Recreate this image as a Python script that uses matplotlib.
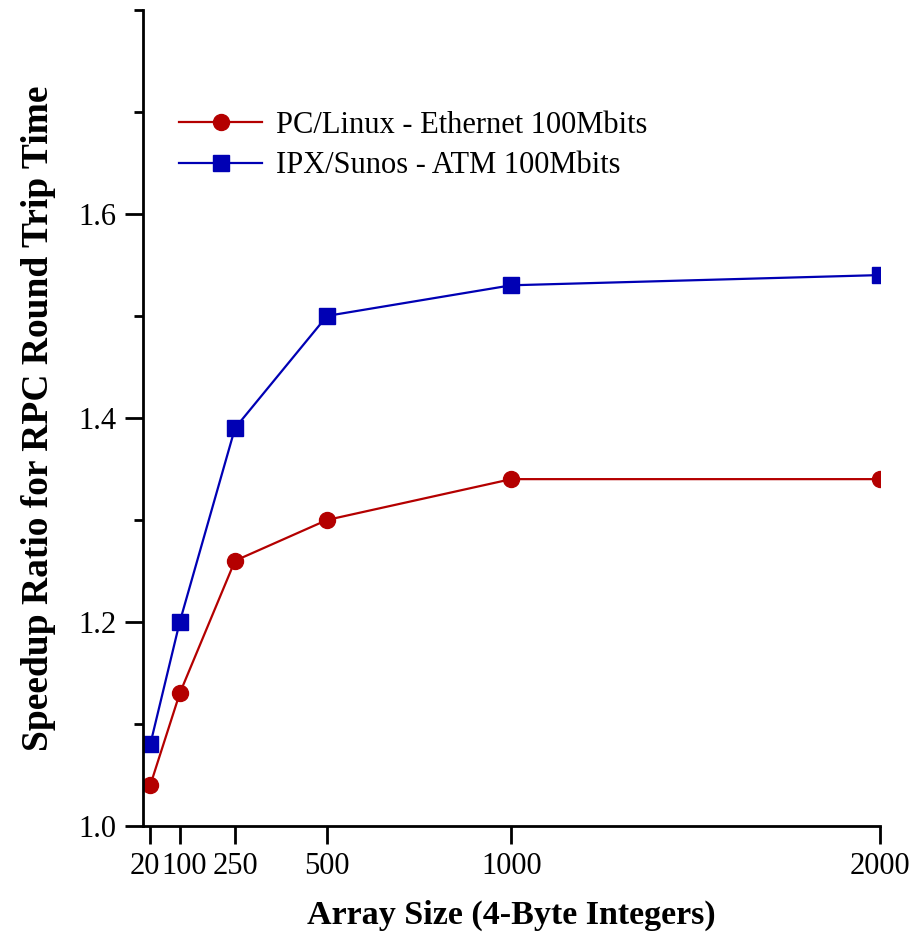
import matplotlib
matplotlib.use("Agg")
import matplotlib.pyplot as plt
from matplotlib.ticker import MultipleLocator
from matplotlib.transforms import ScaledTranslation

plt.rcParams["font.family"] = ["Liberation Serif", "DejaVu Serif"]

array_size = [20, 100, 250, 500, 1000, 2000]
pc_linux = [1.04, 1.13, 1.26, 1.30, 1.34, 1.34]
ipx_sunos = [1.08, 1.20, 1.39, 1.50, 1.53, 1.54]
xtick_labels = ["20", "100", "250", "500", "1000", "2000"]

RED, BLUE = "#b40000", "#0000b4"

fig = plt.figure(figsize=(9.22, 9.36), dpi=100)
ax = fig.add_axes([0.155, 0.1175, 0.799, 0.872])

ax.plot(array_size, pc_linux, color=RED, lw=1.6, marker="o", ms=11.5,
        label="PC/Linux - Ethernet 100Mbits")
ax.plot(array_size, ipx_sunos, color=BLUE, lw=1.6, marker="s", ms=11,
        label="IPX/Sunos - ATM 100Mbits")

ax.set_xlim(0, 2000)
ax.set_ylim(1.0, 1.8)
ax.set_xticks(array_size)
ax.set_xticklabels(xtick_labels)
ax.yaxis.set_minor_locator(MultipleLocator(0.1))
ax.set_yticks([1.0, 1.2, 1.4, 1.6])
ax.set_yticklabels(["1.0", "1.2", "1.4", "1.6"])

for s in ("top", "right"):
    ax.spines[s].set_visible(False)
for s in ("left", "bottom"):
    ax.spines[s].set_linewidth(2)
ax.tick_params(which="major", direction="out", length=13, width=2,
               labelsize=22, pad=6)
ax.tick_params(which="minor", direction="out", length=6.5, width=2)
ax.tick_params(axis="x", which="minor", length=0)

# the first two sizes sit close together: nudge their labels apart
lbls = ax.get_xticklabels()
for lbl, dx in ((lbls[0], -5), (lbls[1], 4)):
    lbl.set_transform(lbl.get_transform()
                      + ScaledTranslation(dx / 100, 0, fig.dpi_scale_trans))

ax.set_xlabel("Array Size (4-Byte Integers)", fontsize=24.5, fontweight="bold",
              labelpad=13)
ax.set_ylabel("Speedup Ratio for RPC Round Trip Time", fontsize=27,
              fontweight="bold", labelpad=16)

ax.legend(loc="upper left", bbox_to_anchor=(0.012, 0.91), frameon=False,
          fontsize=22, handlelength=2.7, handletextpad=0.45, labelspacing=0.38)

fig.savefig("out.png", dpi=100)
